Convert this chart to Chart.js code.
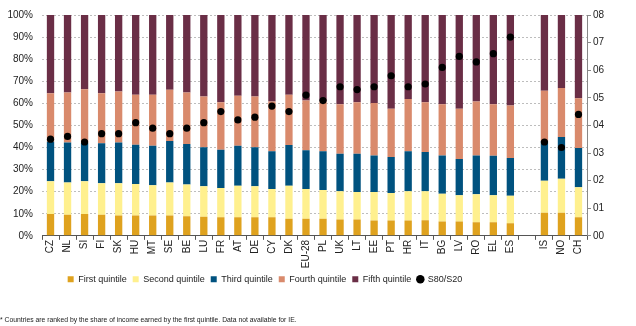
<!DOCTYPE html>
<html>
<head>
<meta charset="utf-8">
<script src="https://cdn.jsdelivr.net/npm/chart.js@4"></script>
<style>
  html, body { margin: 0; padding: 0; background: #fff; }
  #wrap { width: 636px; height: 326px; position: relative; }
</style>
</head>
<body>
<div id="wrap"><canvas id="chart"></canvas></div>
<script>
// Countries (one empty slot separates the EU block from IS, NO, CH).
const countries = ['CZ', 'NL', 'SI', 'FI', 'SK', 'HU', 'MT', 'SE', 'BE', 'LU', 'FR', 'AT', 'DE', 'CY', 'DK', 'EU-28', 'PL', 'UK', 'LT', 'EE', 'PT', 'HR', 'IT', 'BG', 'LV', 'RO', 'EL', 'ES', '', 'IS', 'NO', 'CH'];
// Share of income by quintile (%).
const firstQuintile = [9.9, 9.5, 9.9, 9.5, 9.2, 9.2, 9.2, 9.2, 8.9, 8.7, 8.4, 8.4, 8.4, 8.4, 7.7, 7.7, 7.7, 7.4, 7.4, 6.9, 6.9, 6.9, 7.1, 6.5, 6.5, 6.2, 6.2, 5.7, null, 10.5, 10.5, 8.4];
const secondQuintile = [14.8, 14.7, 14.8, 14.3, 14.6, 14.3, 13.7, 15.0, 14.3, 13.7, 13.3, 14.3, 14.0, 12.8, 15.0, 13.5, 13.1, 12.8, 12.5, 13.0, 12.5, 13.3, 13.1, 12.6, 11.9, 12.6, 12.2, 12.4, null, 14.5, 15.4, 13.6];
const thirdQuintile = [17.9, 18.1, 17.3, 18.1, 18.5, 17.8, 17.9, 18.7, 18.4, 17.7, 17.3, 18.1, 17.7, 17.1, 18.4, 17.5, 17.5, 17.0, 17.3, 16.5, 16.3, 18.1, 17.8, 17.3, 16.4, 17.6, 17.9, 17.1, null, 18.0, 18.8, 17.8];
const fourthQuintile = [22.0, 22.6, 24.4, 22.7, 23.1, 22.6, 23.1, 23.2, 23.3, 23.0, 21.5, 22.6, 23.0, 22.5, 22.8, 22.6, 22.5, 22.4, 23.3, 23.8, 21.8, 23.7, 22.5, 23.2, 22.7, 24.4, 23.3, 23.8, null, 22.7, 22.2, 22.5];
const fifthQuintile = [35.4, 35.1, 33.6, 35.4, 34.6, 36.1, 36.1, 33.9, 35.1, 36.9, 39.5, 36.6, 36.9, 39.2, 36.1, 38.7, 39.2, 40.4, 39.5, 39.8, 42.5, 38.0, 39.5, 40.4, 42.5, 39.2, 40.4, 41.0, null, 34.3, 33.1, 37.7];
// Income quintile share ratio (right axis).
const s80s20 = [3.5, 3.6, 3.4, 3.7, 3.7, 4.1, 3.9, 3.7, 3.9, 4.1, 4.5, 4.2, 4.3, 4.7, 4.5, 5.1, 4.9, 5.4, 5.3, 5.4, 5.8, 5.4, 5.5, 6.1, 6.5, 6.3, 6.6, 7.2, null, 3.4, 3.2, 4.4];
// Right axis tick labels, as printed.
const rightTickLabels = ['00', '01', '02', '03', '04', '05', '06', '07', '08'];

const footnote = '* Countries are ranked by the share of income earned by the first quintile. Data not available for IE.';

const labelFont = { family: 'Liberation Sans, Arial, sans-serif', size: 10 };

function barSet( label, values, color ) {
    return {
        type: 'bar',
        label: label,
        data: values,
        backgroundColor: color,
        borderWidth: 0,
        yAxisID: 'y',
        categoryPercentage: 1,
        barPercentage: 0.43,
        order: 2
    };
}

// Moves the legend a little left, as in the original layout.
const legendShift = {
    id: 'legendShift',
    afterLayout: function ( chart ) {
        chart.legend.right -= 106;
    }
};

new Chart( document.getElementById( 'chart' ), {
    data: {
        labels: countries,
        datasets: [
            barSet( 'First quintile', firstQuintile, '#DFA21E' ),
            barSet( 'Second quintile', secondQuintile, '#FFF08E' ),
            barSet( 'Third quintile', thirdQuintile, '#00527F' ),
            barSet( 'Fourth quintile', fourthQuintile, '#D98A6C' ),
            barSet( 'Fifth quintile', fifthQuintile, '#6A2E46' ),
            {
                type: 'line',
                label: 'S80/S20',
                data: s80s20,
                yAxisID: 'y1',
                showLine: false,
                pointRadius: 3.6,
                pointBackgroundColor: '#000',
                pointBorderWidth: 0,
                pointStyle: 'circle',
                order: 1
            }
        ]
    },
    options: {
        responsive: true,
        maintainAspectRatio: false,
        animation: false,
        layout: { padding: { top: 9, left: 0, right: 0, bottom: 2 } },
        scales: {
            x: {
                stacked: true,
                offset: true,
                grid: { drawOnChartArea: false, drawTicks: true, tickLength: 4, color: '#555', offset: true },
                border: { display: true, color: '#555' },
                ticks: { font: labelFont, color: '#222', minRotation: 90, maxRotation: 90, autoSkip: false, padding: 0 },
                afterFit: s => { s.height = 33; }
            },
            y: {
                stacked: true,
                min: 0,
                max: 100,
                ticks: { stepSize: 10, font: labelFont, color: '#222', padding: 9, callback: v => v + '%' },
                grid: { color: '#bdbdbd', drawTicks: false },
                border: { display: false, dash: [2, 2] },
                afterFit: s => { s.width = 42; }
            },
            y1: {
                position: 'right',
                min: 0,
                max: 8,
                ticks: { stepSize: 1, font: labelFont, color: '#222', padding: 2, callback: ( v, i ) => rightTickLabels[i] },
                grid: { drawOnChartArea: false, drawTicks: true, tickLength: 4, color: '#888' },
                border: { display: true, color: '#888' },
                afterFit: s => { s.width = 49; }
            }
        },
        plugins: {
            legend: {
                position: 'bottom',
                labels: {
                    usePointStyle: true,
                    pointStyle: 'rect',
                    boxWidth: 6,
                    boxHeight: 6,
                    padding: 6,
                    color: '#222',
                    font: { family: 'Liberation Sans, Arial, sans-serif', size: 9 },
                    sort: ( a, b ) => a.datasetIndex - b.datasetIndex,
                    generateLabels: chart => Chart.defaults.plugins.legend.labels.generateLabels( chart ).map( item => {
                        item.pointStyle = item.text === 'S80/S20' ? 'circle' : 'rect';
                        item.fillStyle = chart.data.datasets[item.datasetIndex].backgroundColor || '#000';
                        item.strokeStyle = item.fillStyle;
                        item.lineWidth = 0;
                        return item;
                    } )
                }
            },
            subtitle: {
                display: true,
                position: 'bottom',
                align: 'start',
                text: footnote,
                color: '#222',
                font: { family: 'Liberation Sans, sans-serif', size: 6.8 },
                padding: { top: 22, bottom: 0 }
            },
            tooltip: { enabled: false }
        }
    },
    plugins: [legendShift]
});
</script>
</body>
</html>
